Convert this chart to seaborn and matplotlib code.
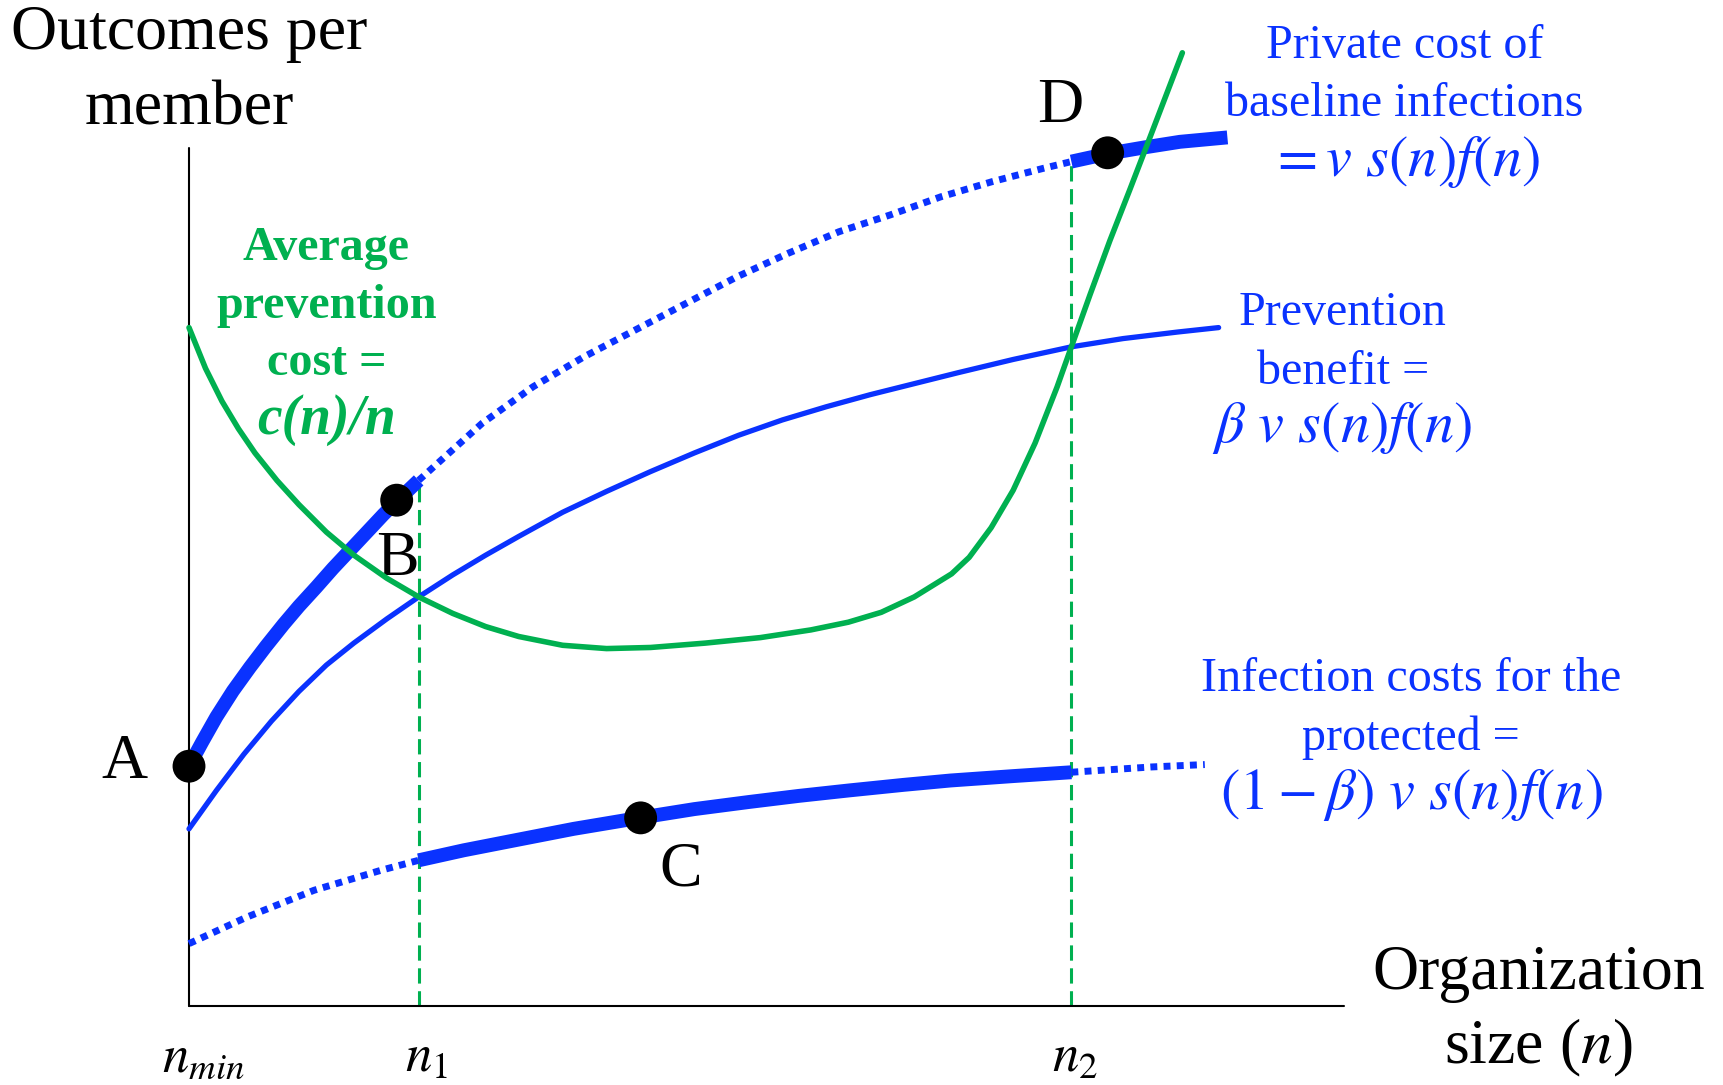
import numpy as np
import seaborn as sns
import matplotlib.pyplot as plt

# organization size n measured from n_min (=0), outcomes from the horizontal axis
n1 = 209
n2 = 803

# private cost of baseline infections = v s(n) f(n)
private_n = [0, 12, 25, 40, 55.5, 70, 86, 100, 116, 131, 146.5, 162, 177, 189, 209,
             266.6, 313, 359.4, 405.9, 452.3, 498.7, 545.1, 591.5, 637.9, 684.3, 730.7,
             777.2, 803, 835, 870, 901.8, 945]
private_y = [218, 240, 263, 286.5, 308, 327, 347, 363.5, 381, 398, 414.5, 431, 447, 459, 478,
             529.8, 563.1, 590.4, 614.7, 639, 663.2, 684.5, 704.2, 719.4, 736, 749.7,
             761.8, 768, 775, 781, 786, 790]

# prevention benefit = beta v s(n) f(n)
benefit_n = [0, 25, 50, 75, 100, 125, 150, 180, 209, 240, 270, 300, 340, 380, 420, 460,
             500, 540, 580, 620, 660, 700, 750, 803, 850, 900, 937]
benefit_y = [161, 196, 229, 259, 286, 310, 330, 352, 372, 392, 410, 427, 449, 468, 486, 503,
             519, 533, 545, 556, 566, 576, 588, 599.5, 607, 613, 617]

# average prevention cost = c(n)/n
cost_n = [0, 15, 30, 45, 60, 80, 100, 125, 150, 180, 209, 240, 270, 300, 340, 380, 420,
          470, 520, 566, 600, 630, 660, 694, 710, 730, 750, 770, 790, 803, 820, 838, 856,
          874.5, 904]
cost_y = [617, 580, 550, 525, 503, 478, 456, 431, 410, 389, 372, 357, 345, 336, 328, 325, 326,
          330, 335, 342, 349, 358, 372, 393, 408, 435, 469, 512, 563, 599.5, 647, 696, 742,
          790, 867]

# infection costs for the protected = (1 - beta) v s(n) f(n)
protected_n = [0, 52.8, 113.7, 174.6, 209, 250, 296.6, 350, 411, 460, 510, 555, 601,
               650, 693, 750, 803, 875.6, 924.4]
protected_y = [56.6, 80.8, 105.1, 123.3, 132.4, 141.5, 150.6, 161, 171.2, 179, 185.5, 191, 196,
               201, 205, 209, 212.5, 217.3, 219.5]

point_labels = ['A', 'B', 'C', 'D']
point_n = [0, 189, 411, 836]
point_y = [218, 460, 171, 776]

tick_labels = ['$n_{min}$', '$n_1$', '$n_2$']
tick_n = [0, n1, n2]

BLUE = '#0a32ff'
GREEN = '#00b050'

sns.set_style('white')
plt.rcParams['font.family'] = ['Liberation Serif', 'DejaVu Serif']
plt.rcParams['mathtext.fontset'] = 'stix'
plt.rcParams['text.color'] = 'black'


def part(xs, ys, lo, hi):
    x = np.array(xs)
    y = np.array(ys)
    m = (x >= lo) & (x <= hi)
    return x[m], y[m]


fig = plt.figure(figsize=(17.23, 10.85), dpi=100)
ax = fig.add_axes([0, 0, 1, 1])
ax.set_xlim(-172, 1396)
ax.set_ylim(-72, 915)
ax.axis('off')

# axes drawn by hand
ax.plot([0, 0], [0, 780], color='black', lw=1.5, zorder=2)
ax.plot([0, 1051], [0, 0], color='black', lw=1.5, zorder=2)

# dashed guides at n1 and n2
tops = [private_y[private_n.index(n1)], private_y[private_n.index(n2)]]
ax.vlines([n1, n2], 0, tops, color=GREEN, lw=2.2, linestyles=[(0, (5, 2.5))], zorder=1)

thick = dict(lw=10, solid_capstyle='butt')
dotted = dict(lw=5, linestyle=(0, (1, 0.9)))

x, y = part(private_n, private_y, -1, n1)
sns.lineplot(x=x, y=y, ax=ax, color=BLUE, sort=False, estimator=None, zorder=3, **thick)
x, y = part(private_n, private_y, n1, n2)
sns.lineplot(x=x, y=y, ax=ax, color=BLUE, sort=False, estimator=None, zorder=3, **dotted)
x, y = part(private_n, private_y, n2, 2000)
sns.lineplot(x=x, y=y, ax=ax, color=BLUE, sort=False, estimator=None, zorder=3, **thick)

x, y = part(protected_n, protected_y, -1, n1)
sns.lineplot(x=x, y=y, ax=ax, color=BLUE, sort=False, estimator=None, zorder=3, **dotted)
x, y = part(protected_n, protected_y, n1, n2)
sns.lineplot(x=x, y=y, ax=ax, color=BLUE, sort=False, estimator=None, zorder=3, **thick)
x, y = part(protected_n, protected_y, n2, 2000)
sns.lineplot(x=x, y=y, ax=ax, color=BLUE, sort=False, estimator=None, zorder=3, **dotted)

sns.lineplot(x=benefit_n, y=benefit_y, ax=ax, color=BLUE, lw=3.8, sort=False, estimator=None, zorder=3)
sns.lineplot(x=cost_n, y=cost_y, ax=ax, color=GREEN, lw=4, sort=False, estimator=None, zorder=4)

sns.scatterplot(x=point_n, y=point_y, ax=ax, color='black', s=560, edgecolor='none', zorder=5)

# point letters
letter_pos = [(-59, 221), (190, 406), (447, 123), (793, 818)]
for lab, (lx, ly) in zip(point_labels, letter_pos):
    ax.text(lx, ly, lab, fontsize=46, ha='center', va='center')

tick_shift = [13, 7, 3]
for lab, tx, dx in zip(tick_labels, tick_n, tick_shift):
    ax.text(tx + dx, -48, lab, fontsize=38, ha='center', va='center')

ax.text(0, 850, 'Outcomes per\nmember', fontsize=46, ha='center', va='center', linespacing=1.39)
ax.text(1228, -6, 'Organization\nsize ($n$)', fontsize=46, ha='center', va='center', linespacing=1.3)

ax.text(125, 637, 'Average\nprevention\ncost =', fontsize=34.6, fontweight='bold', color=GREEN,
        ha='center', va='center', linespacing=1.39)
ax.text(125, 533, 'c(n)/n', fontsize=40, fontweight='bold', fontstyle='italic', color=GREEN,
        ha='center', va='center')

blue_kw = dict(fontsize=34.6, color=BLUE, ha='center', va='center', linespacing=1.42)
math_kw = dict(fontsize=42, color=BLUE, ha='center', va='center')

ax.text(1106, 846.5, 'Private cost of\nbaseline infections', **blue_kw)
ax.text(1106, 768, '$= v\\ s(n)f(n)$', **math_kw)

ax.text(1050, 603.5, 'Prevention\nbenefit =', **blue_kw)
ax.text(1049, 526, '$\\beta\\ v\\ s(n)f(n)$', **math_kw)

ax.text(1112, 270.5, 'Infection costs for the\nprotected =', **blue_kw)
ax.text(1112, 192, '$(1-\\beta)\\ v\\ s(n)f(n)$', **math_kw)

fig.savefig('out.png', dpi=100)
